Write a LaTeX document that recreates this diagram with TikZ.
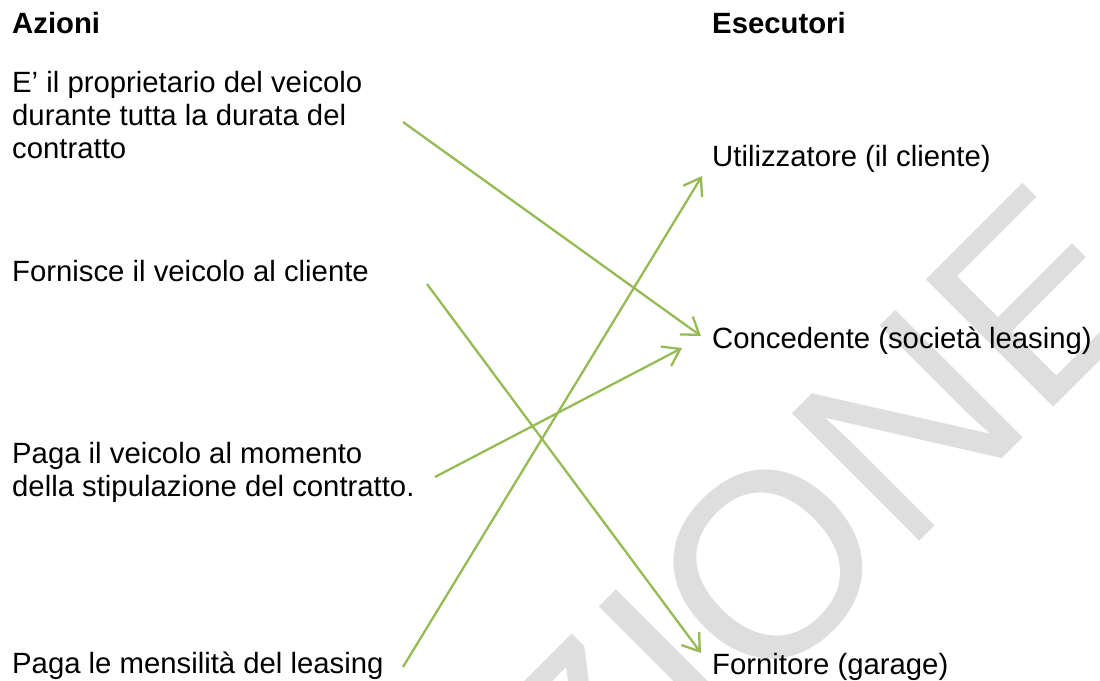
\documentclass[tikz,border=0pt]{standalone}
\usepackage{fontspec}
\setmainfont{Liberation Sans}
\usetikzlibrary{arrows.meta}
\definecolor{wmgray}{RGB}{222,222,222}
\definecolor{arrowgreen}{RGB}{150,187,84}
\tikzset{
  lbl/.style={anchor=base west, inner sep=0pt, font=\fontsize{29.3}{33}\selectfont},
  head/.style={lbl, font=\fontsize{29.3}{33}\selectfont\bfseries},
  link/.style={draw=arrowgreen, line width=2.3pt, -{Straight Barb[length=16pt,width=22pt,line width=2.3pt]}},
  wmark/.style={anchor=base west, inner sep=0pt, rotate=45, text=wmgray, font=\fontsize{262}{262}\selectfont}
}
\begin{document}
\begin{tikzpicture}[x=1pt,y=-1pt]
\useasboundingbox (0,0) rectangle (1100,680);
\clip (0,0) rectangle (1100,680);
\fill[white] (0,0) rectangle (1100,680);
% watermark
\node[wmark] (wm) at (596,865) {ZIONE};
% headings
\node[head] (h1) at (12,33) {Azioni};
\node[head] (h2) at (712,33) {Esecutori};
% actions
\node[lbl] (t1) at (12,92) {\begin{tabular}[t]{@{}l@{}}E’ il proprietario del veicolo\\durante tutta la durata del\\contratto\end{tabular}};
\node[lbl] (t2) at (12,281) {Fornisce il veicolo al cliente};
\node[lbl] (t3) at (12,463) {\begin{tabular}[t]{@{}l@{}}Paga il veicolo al momento\\della stipulazione del contratto.\end{tabular}};
\node[lbl] (t4) at (12,673) {Paga le mensilità del leasing};
% executors
\node[lbl] (u) at (712,166) {Utilizzatore (il cliente)};
\node[lbl] (c) at (712,348) {Concedente (società leasing)};
\node[lbl] (f) at (712,674) {Fornitore (garage)};
% connectors
\draw[link] ([shift={(391,30)}]t1.base west) -- ([shift={(-11,-12)}]c.base west);
\draw[link] ([shift={(415,3)}]t2.base west) -- ([shift={(-11,-21)}]f.base west);
\draw[link] ([shift={(423,14)}]t3.base west) -- ([shift={(-30,0)}]c.base west);
\draw[link] ([shift={(391,-6)}]t4.base west) -- ([shift={(-10,10)}]u.base west);
\end{tikzpicture}
\end{document}
